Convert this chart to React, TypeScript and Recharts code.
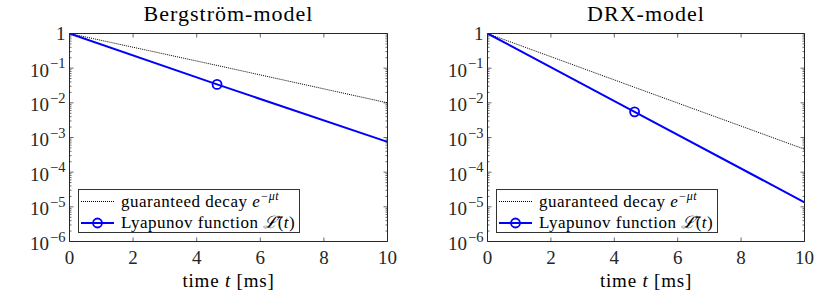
import { LineChart, Line, XAxis, YAxis, Legend } from 'recharts';

// sample times [ms]; the curves are straight on the log axis, so the ends and the marked point are enough
const times = [0, 4.64, 10];
const markerTime = 4.64;

const bergGuaranteed = [1, 0.12, 0.01];
const bergLyapunov = [1, 0.034, 0.00075];
const drxGuaranteed = [1, 0.028, 0.00046];
const drxLyapunov = [1, 0.0055, 0.0000135];

const xTicks = [0, 2, 4, 6, 8, 10];
const yExponents = [-6, -5, -4, -3, -2, -1, 0];
const minorMultiples = [2, 3, 4, 5, 6, 7, 8, 9];

const yMajor = yExponents.map((e) => Math.pow(10, e));
const yMinor = yExponents.slice(0, -1).flatMap((e) => minorMultiples.map((m) => m * Math.pow(10, e)));
const yTicks = [...yMajor, ...yMinor].sort((a, b) => a - b);

const INK = '#262626';
const BLUE = '#0000ff';
const serif = '"Liberation Serif", "Times New Roman", serif';
const W = 415;
const H = 296;

const isMajor = (v: number) => {
  const l = Math.log10(v);
  return Math.abs(l - Math.round(l)) < 1e-6;
};

function LeftTick({ x, y, payload }: any) {
  const v = payload.value;
  const major = isMajor(v);
  const e = Math.round(Math.log10(v));
  return (
    <g>
      <line x1={x} x2={x + (major ? 4 : 2)} y1={y} y2={y} stroke={INK} strokeWidth={0.7} />
      {major && (
        <text
          x={x - 4}
          y={y}
          dy={e === 0 ? 6 : 8.5}
          textAnchor="end"
          fill={INK}
          fontSize={19}
          style={{ fontFamily: serif }}
        >
          {e === 0 ? (
            '1'
          ) : (
            <>
              <tspan>10</tspan>
              <tspan dx={1} dy={-8.5} fontSize={14.5}>{`\u2212${-e}`}</tspan>
            </>
          )}
        </text>
      )}
    </g>
  );
}

function RightTick({ x, y, payload }: any) {
  const len = isMajor(payload.value) ? 4 : 2;
  return <line x1={x} x2={x - len} y1={y} y2={y} stroke={INK} strokeWidth={0.7} />;
}

function BottomTick({ x, y, payload }: any) {
  return (
    <g>
      <line x1={x} x2={x} y1={y} y2={y - 4} stroke={INK} strokeWidth={0.7} />
      <text x={x} y={y + 22} textAnchor="middle" fill={INK} fontSize={19} style={{ fontFamily: serif }}>
        {payload.value}
      </text>
    </g>
  );
}

function TopTick({ x, y }: any) {
  return <line x1={x} x2={x} y1={y} y2={y + 4} stroke={INK} strokeWidth={0.7} />;
}

function MarkerDot(props: any) {
  const { cx, cy, payload, index } = props;
  if (payload.t !== markerTime) return <g key={index} />;
  return <circle key={index} cx={cx} cy={cy} r={4.5} stroke={BLUE} strokeWidth={1.8} fill="none" />;
}

function LegendBox() {
  return (
    <div
      style={{
        width: 222,
        height: 44,
        border: '1px solid #333',
        background: '#fff',
        boxSizing: 'border-box',
        lineHeight: 0,
      }}
    >
      <svg width={220} height={42} fontSize={17} style={{ fontFamily: serif }}>
        <line x1={2} x2={35} y1={11.5} y2={11.5} stroke="#000" strokeWidth={1} strokeDasharray="1 1" />
        <text x={42} y={16.5} fill="#000" letterSpacing={0.5}>
          guaranteed decay <tspan fontStyle="italic">e</tspan>
          <tspan dy={-7} fontSize={12} fontStyle="italic">{'\u2212\u03bct'}</tspan>
        </text>
        <line x1={2} x2={35} y1={33} y2={33} stroke={BLUE} strokeWidth={2} />
        <circle cx={18.5} cy={33} r={4.5} stroke={BLUE} strokeWidth={1.8} fill="none" />
        <text x={42} y={38} fill="#000" letterSpacing={0.5}>
          Lyapunov function <tspan fontStyle="italic">{'\u2112\u0304'}</tspan>(<tspan fontStyle="italic">t</tspan>)
        </text>
      </svg>
    </div>
  );
}

interface PanelProps {
  title: string;
  guaranteed: number[];
  lyapunov: number[];
  left: number;
  right: number;
}

function Panel({ title, guaranteed, lyapunov, left, right }: PanelProps) {
  const data = times.map((t, i) => ({ t, g: guaranteed[i], l: lyapunov[i] }));
  const top = 33.5;
  const bottom = 54.5;
  const cx = left + (W - left - right) / 2;
  return (
    <div style={{ position: 'relative', width: W, height: H }}>
      <LineChart width={W} height={H} data={data} margin={{ top: 0, right: 0, bottom: 0, left: 0 }}>
        <XAxis
          dataKey="t"
          type="number"
          domain={[0, 10]}
          ticks={xTicks}
          interval={0}
          height={bottom}
          tickSize={0}
          tickMargin={0}
          tickLine={false}
          tick={<BottomTick />}
          axisLine={{ stroke: INK, strokeWidth: 1 }}
          allowDataOverflow
        />
        <XAxis
          xAxisId="top"
          orientation="top"
          dataKey="t"
          type="number"
          domain={[0, 10]}
          ticks={xTicks}
          interval={0}
          height={top}
          tickSize={0}
          tickMargin={0}
          tickLine={false}
          tick={<TopTick />}
          axisLine={{ stroke: INK, strokeWidth: 1 }}
          allowDataOverflow
        />
        <YAxis
          type="number"
          scale="log"
          domain={[1e-6, 1]}
          ticks={yTicks}
          interval={0}
          width={left}
          tickSize={0}
          tickMargin={0}
          tickLine={false}
          tick={<LeftTick />}
          axisLine={{ stroke: INK, strokeWidth: 1 }}
          allowDataOverflow
        />
        <YAxis
          yAxisId="right"
          orientation="right"
          type="number"
          scale="log"
          domain={[1e-6, 1]}
          ticks={yTicks}
          interval={0}
          width={right}
          tickSize={0}
          tickMargin={0}
          tickLine={false}
          tick={<RightTick />}
          axisLine={{ stroke: INK, strokeWidth: 1 }}
          allowDataOverflow
        />
        <Line
          dataKey="g"
          name="guaranteed decay"
          stroke="#000"
          strokeWidth={1}
          strokeDasharray="1 1"
          dot={false}
          isAnimationActive={false}
        />
        <Line
          dataKey="l"
          name="Lyapunov function"
          stroke={BLUE}
          strokeWidth={2}
          dot={MarkerDot}
          activeDot={false}
          isAnimationActive={false}
        />
        <Legend
          layout="vertical"
          align="center"
          verticalAlign="middle"
          content={<LegendBox />}
          wrapperStyle={{ left: left + 8.5, top: 189, width: 222, height: 44 }}
        />
      </LineChart>
      <svg
        width={W}
        height={H}
        style={{ position: 'absolute', left: 0, top: 0, pointerEvents: 'none', fontFamily: serif }}
      >
        <text x={cx} y={21} textAnchor="middle" fontSize={22} fill="#000" letterSpacing={1}>
          {title}
        </text>
        <text x={cx} y={287} textAnchor="middle" fontSize={19} fill="#000" letterSpacing={0.8}>
          time <tspan fontStyle="italic">t</tspan> [ms]
        </text>
      </svg>
    </div>
  );
}

export default function App() {
  return (
    <div style={{ position: 'absolute', left: 0, top: 0, width: 830, height: H, display: 'flex', background: '#fff' }}>
      <Panel title="Bergström-model" guaranteed={bergGuaranteed} lyapunov={bergLyapunov} left={69.5} right={27.5} />
      <Panel title="DRX-model" guaranteed={drxGuaranteed} lyapunov={drxLyapunov} left={72.5} right={25.5} />
    </div>
  );
}
